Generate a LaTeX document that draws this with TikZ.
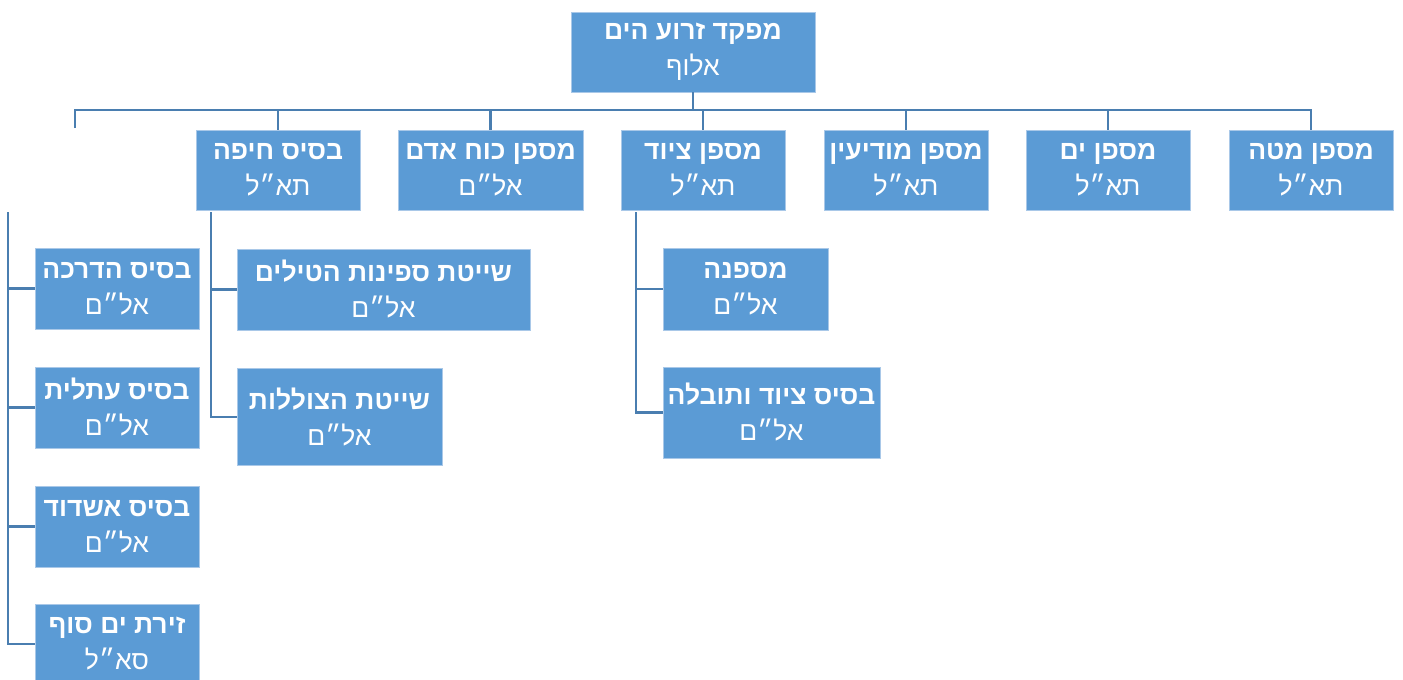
\documentclass[tikz,border=0pt]{standalone}
\usepackage{fontspec}
\newfontfamily\heb[Script=Hebrew]{Liberation Sans}
\TeXXeTstate=1
\definecolor{boxblue}{HTML}{5B9BD5}
\definecolor{linkblue}{HTML}{4A7EB0}
\definecolor{edgeblue}{HTML}{A9C8E8}
\newcommand{\hb}[2]{\textbf{\beginR #1\endR}\\\beginR #2\endR}
\begin{document}
\begin{tikzpicture}[x=1pt,y=-1pt,
  box/.style={fill=boxblue, draw=edgeblue, line width=0.8pt, text=white,
    inner sep=0pt, align=center, font=\heb\fontsize{26.5}{36}\selectfont},
  conn/.style={draw=linkblue, line width=2.8pt}]
\useasboundingbox (0,0) rectangle (1403,680);
\clip (0,0) rectangle (1403,680);
% root
\node[box, minimum width=244pt, minimum height=80pt] (root) at (693,52) {\hb{מפקד זרוע הים}{אלוף}};
% level 2
\node[box, minimum width=164pt, minimum height=80pt] (haifa) at (278,170) {\hb{בסיס חיפה}{תא״ל}};
\node[box, minimum width=185pt, minimum height=80pt] (koah) at (490.5,170) {\hb{מספן כוח אדם}{אל״ם}};
\node[box, minimum width=164pt, minimum height=80pt] (tziud) at (703,170) {\hb{מספן ציוד}{תא״ל}};
\node[box, minimum width=164pt, minimum height=80pt] (modiin) at (906,170) {\hb{מספן מודיעין}{תא״ל}};
\node[box, minimum width=164pt, minimum height=80pt] (yam) at (1108,170) {\hb{מספן ים}{תא״ל}};
\node[box, minimum width=164pt, minimum height=80pt] (mate) at (1311,170) {\hb{מספן מטה}{תא״ל}};
% under haifa
\node[box, minimum width=293pt, minimum height=81pt] (tilim) at (383.5,289.5) {\hb{שייטת ספינות הטילים}{אל״ם}};
\node[box, minimum width=205pt, minimum height=97pt] (tzolelot) at (339.5,417) {\hb{שייטת הצוללות}{אל״ם}};
% under tziud
\node[box, minimum width=165pt, minimum height=82pt] (mispana) at (745.5,289) {\hb{מספנה}{אל״ם}};
\node[box, minimum width=217pt, minimum height=91pt] (btziud) at (771.5,412.5) {\hb{בסיס ציוד ותובלה}{אל״ם}};
% left column
\node[box, minimum width=164pt, minimum height=81pt] (hadracha) at (117,288.5) {\hb{בסיס הדרכה}{אל״ם}};
\node[box, minimum width=164pt, minimum height=81pt] (atlit) at (117,407.5) {\hb{בסיס עתלית}{אל״ם}};
\node[box, minimum width=164pt, minimum height=81pt] (ashdod) at (117,526.5) {\hb{בסיס אשדוד}{אל״ם}};
\node[box, minimum width=164pt, minimum height=80pt] (yamsuf) at (117,644) {\hb{זירת ים סוף}{סא״ל}};
% coordinates
\coordinate (busL) at (75,110);
\coordinate (busR) at (1311,110);
\coordinate (stubL) at (75,128);
\coordinate (hx) at (211,212);
\coordinate (tx) at (636,212);
\coordinate (lx) at (8,212);
% connectors
\draw[conn] (root.south) -- (root.south |- busL);
\draw[conn, line join=miter] (stubL) -- (busL) -- (busR) -- (mate.north);
\foreach \n in {haifa,koah,tziud,modiin,yam}
  \draw[conn] (\n.north |- busL) -- (\n.north);
\draw[conn] (hx) |- (tzolelot.west);
\draw[conn] (hx |- tilim.west) -- (tilim.west);
\draw[conn] (tx) |- (btziud.west);
\draw[conn] (tx |- mispana.west) -- (mispana.west);
\draw[conn] (lx) |- (yamsuf.west);
\draw[conn] (lx |- hadracha.west) -- (hadracha.west);
\draw[conn] (lx |- atlit.west) -- (atlit.west);
\draw[conn] (lx |- ashdod.west) -- (ashdod.west);
\end{tikzpicture}
\end{document}
